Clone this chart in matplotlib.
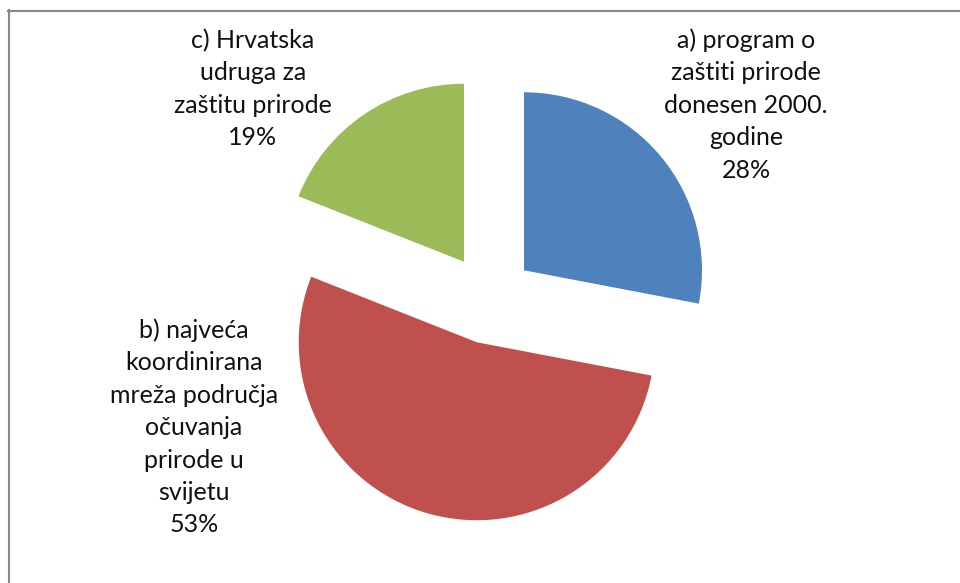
import matplotlib
matplotlib.use("Agg")
import matplotlib.pyplot as plt
from matplotlib.lines import Line2D

# ---- data ----
categories = ["a) program o zaštiti prirode donesen 2000. godine",
              "b) najveća koordinirana mreža područja očuvanja prirode u svijetu",
              "c) Hrvatska udruga za zaštitu prirode"]
values = [28, 53, 19]
label_lines = [
    ["a) program o", "zaštiti prirode", "donesen 2000.", "godine"],
    ["b) najveća", "koordinirana", "mreža područja", "očuvanja", "prirode u", "svijetu"],
    ["c) Hrvatska", "udruga za", "zaštitu prirode"],
]
colors = ["#4F81BD", "#C0504D", "#9BBB59"]

# ---- layout ----
W, H, DPI = 960, 583, 100
CX, CY, R = 489.3, 299.0, 178.0          # pie centre / radius in pixels
label_pos = [(746, 48), (194, 338), (253, 48)]  # centre x, first baseline y (px)
LINE_GAP = 32.4
FONT = "Lato"
FSIZE = 18

fig = plt.figure(figsize=(W / DPI, H / DPI), dpi=DPI)
ax = fig.add_axes([0, 0, 1, 1])

ax.pie(values, colors=colors, startangle=90, counterclock=False,
       explode=[0.253] * len(values), radius=1.0,
       wedgeprops=dict(linewidth=0))
ax.set_aspect("auto")
ax.set_xlim(-CX / R, (W - CX) / R)
ax.set_ylim(-(H - CY) / R, CY / R)
ax.axis("off")

total = sum(values)
for lines, v, (px, py) in zip(label_lines, values, label_pos):
    allines = lines + [f"{round(100 * v / total)}%"]
    for i, t in enumerate(allines):
        fig.text(px / W, 1 - (py + i * LINE_GAP) / H, t, ha="center",
                 va="baseline", fontsize=FSIZE, family=FONT, color="#111111")

# chart border (top and left visible)
fig.add_artist(Line2D([8 / W, 1], [1 - 11 / H, 1 - 11 / H], color="#868686",
                      linewidth=1.5, transform=fig.transFigure))
fig.add_artist(Line2D([9 / W, 9 / W], [0, 1 - 10 / H], color="#868686",
                      linewidth=1.5, transform=fig.transFigure))

fig.savefig("out.png", dpi=DPI, facecolor="white")
